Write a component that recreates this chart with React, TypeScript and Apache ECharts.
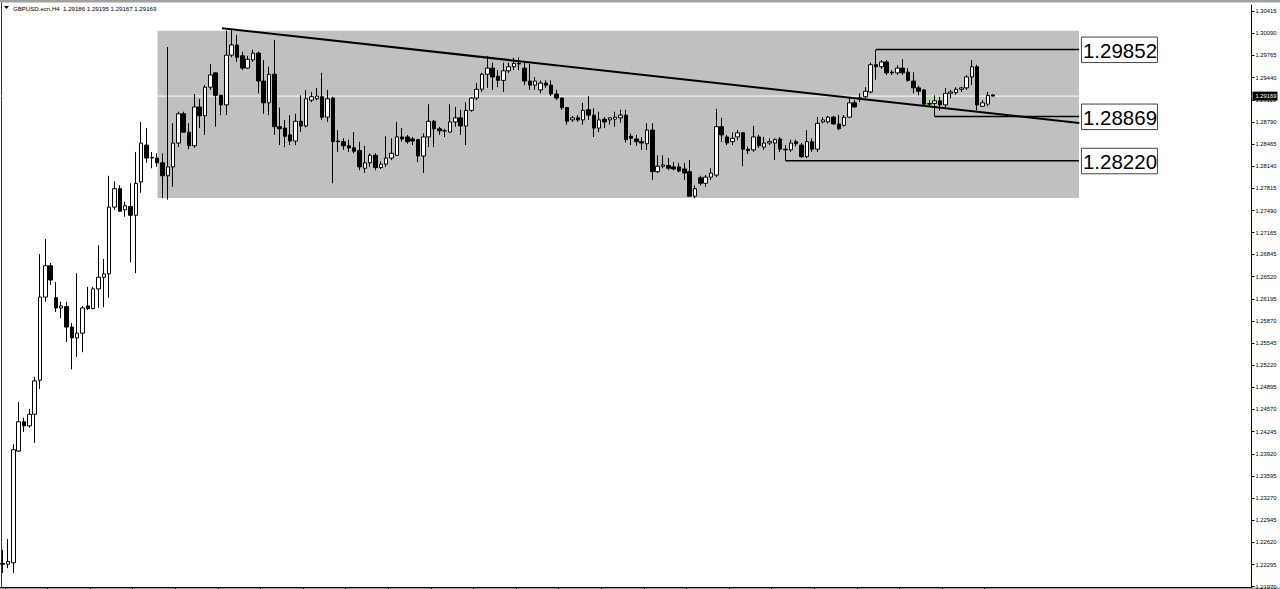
import React, { useEffect, useRef } from "react";
import * as echarts from "echarts";

// ---- candle data (H4 bars, oldest first) ----
const opens = [
  1.2231, 1.2230, 1.2232, 1.2396, 1.2439, 1.2433, 1.2450, 1.2500, 1.2622, 1.2668,
  1.2621, 1.2606, 1.2608, 1.2578, 1.2562, 1.2569, 1.2609, 1.2605, 1.2634, 1.2651,
  1.2656, 1.2754, 1.2781, 1.2750, 1.2755, 1.2742, 1.2791, 1.2845, 1.2827, 1.2826,
  1.2819, 1.2800, 1.2813, 1.2848, 1.2891, 1.2864, 1.2844, 1.2901, 1.2888, 1.2930,
  1.2951, 1.2918, 1.2904, 1.2977, 1.2992, 1.2976, 1.2958, 1.2970, 1.2980, 1.2939,
  1.2907, 1.2949, 1.2872, 1.2870, 1.2860, 1.2851, 1.2880, 1.2873, 1.2911, 1.2913,
  1.2916, 1.2886, 1.2914, 1.2851, 1.2850, 1.2844, 1.2841, 1.2837, 1.2811, 1.2819,
  1.2830, 1.2812, 1.2817, 1.2826, 1.2830, 1.2857, 1.2857, 1.2854, 1.2853, 1.2829,
  1.2857, 1.2880, 1.2869, 1.2866, 1.2864, 1.2879, 1.2885, 1.2873, 1.2896, 1.2914,
  1.2927, 1.2949, 1.2958, 1.2946, 1.2940, 1.2954, 1.2960, 1.2965, 1.2958, 1.2939,
  1.2933, 1.2926, 1.2936, 1.2933, 1.2920, 1.2914, 1.2900, 1.2882, 1.2885, 1.2882,
  1.2897, 1.2889, 1.2870, 1.2883, 1.2882, 1.2883, 1.2885, 1.2889, 1.2858, 1.2854,
  1.2850, 1.2847, 1.2867, 1.2806, 1.2814, 1.2815, 1.2813, 1.2813, 1.2810, 1.2806,
  1.2770, 1.2797, 1.2789, 1.2798, 1.2801, 1.2872, 1.2857, 1.2850, 1.2857, 1.2863,
  1.2839, 1.2838, 1.2857, 1.2842, 1.2848, 1.2848, 1.2854, 1.2839, 1.2838, 1.2850,
  1.2845, 1.2828, 1.2850, 1.2839, 1.2879, 1.2879, 1.2886, 1.2876, 1.2874, 1.2886,
  1.2907, 1.2913, 1.2916, 1.2923, 1.2963, 1.2960, 1.2967, 1.2952, 1.2951, 1.2958,
  1.2952, 1.2939, 1.2929, 1.2926, 1.2905, 1.2906, 1.2910, 1.2904, 1.2921, 1.2922,
  1.2927, 1.2929, 1.2945, 1.2960, 1.2902, 1.2905, 1.29186,
];
const highs = [
  1.2251, 1.2267, 1.2406, 1.2468, 1.2445, 1.2458, 1.2505, 1.2685, 1.2707, 1.2672,
  1.2644, 1.2615, 1.2615, 1.2584, 1.2657, 1.2609, 1.2637, 1.2637, 1.2698, 1.2678,
  1.2800, 1.2792, 1.2786, 1.2762, 1.2789, 1.2835, 1.2879, 1.2870, 1.2835, 1.2833,
  1.2833, 1.2989, 1.2877, 1.2894, 1.2894, 1.2877, 1.2920, 1.2913, 1.2933, 1.2964,
  1.2952, 1.2919, 1.3013, 1.3014, 1.3007, 1.2982, 1.2976, 1.2985, 1.2982, 1.2970,
  1.2960, 1.2999, 1.2900, 1.2882, 1.2889, 1.2891, 1.2918, 1.2926, 1.2923, 1.2929,
  1.2951, 1.2926, 1.2916, 1.2867, 1.2855, 1.2853, 1.2864, 1.2850, 1.2844, 1.2833,
  1.2833, 1.2821, 1.2858, 1.2855, 1.2879, 1.2870, 1.2860, 1.2857, 1.2854, 1.2862,
  1.2905, 1.2882, 1.2872, 1.2869, 1.2905, 1.2901, 1.2897, 1.2908, 1.2915, 1.2936,
  1.2951, 1.2976, 1.2966, 1.2955, 1.2966, 1.2966, 1.2973, 1.2974, 1.2966, 1.2964,
  1.2945, 1.2940, 1.2940, 1.2940, 1.2926, 1.2915, 1.2901, 1.2888, 1.2889, 1.2907,
  1.2917, 1.2899, 1.2894, 1.2886, 1.2886, 1.2894, 1.2897, 1.2897, 1.2862, 1.2860,
  1.2857, 1.2877, 1.2877, 1.2830, 1.2830, 1.2826, 1.2820, 1.2819, 1.2819, 1.2823,
  1.2786, 1.2800, 1.2801, 1.2811, 1.2898, 1.2885, 1.2860, 1.2864, 1.2867, 1.2864,
  1.2843, 1.2873, 1.2860, 1.2857, 1.2855, 1.2855, 1.2857, 1.2845, 1.2853, 1.2853,
  1.2848, 1.2867, 1.2855, 1.2886, 1.2886, 1.2888, 1.2888, 1.2889, 1.2889, 1.2914,
  1.2911, 1.2921, 1.2930, 1.2966, 1.29852, 1.2970, 1.2970, 1.2955, 1.2962, 1.2971,
  1.2958, 1.2952, 1.2932, 1.2927, 1.2911, 1.2918, 1.2916, 1.2929, 1.2926, 1.2930,
  1.2930, 1.2948, 1.2970, 1.2963, 1.2911, 1.2923, 1.29195,
];
const lows = [
  1.2217, 1.2224, 1.2217, 1.2395, 1.2424, 1.2430, 1.2408, 1.2487, 1.2615, 1.2640,
  1.2600, 1.2591, 1.2556, 1.2516, 1.2534, 1.2541, 1.2603, 1.2604, 1.2606, 1.2607,
  1.2621, 1.2750, 1.2747, 1.2740, 1.2673, 1.2657, 1.2775, 1.2819, 1.2811, 1.2813,
  1.2767, 1.2765, 1.2784, 1.2842, 1.2863, 1.2839, 1.2841, 1.2870, 1.2860, 1.2926,
  1.2872, 1.2889, 1.2889, 1.2974, 1.2967, 1.2955, 1.2957, 1.2967, 1.2921, 1.2891,
  1.2889, 1.2860, 1.2845, 1.2842, 1.2845, 1.2845, 1.2864, 1.2871, 1.2908, 1.2911,
  1.2882, 1.2879, 1.2789, 1.2835, 1.2838, 1.2835, 1.2833, 1.2808, 1.2804, 1.2813,
  1.2808, 1.2810, 1.2813, 1.2823, 1.2829, 1.2850, 1.2847, 1.2845, 1.2820, 1.2804,
  1.2842, 1.2842, 1.2860, 1.2857, 1.2863, 1.2872, 1.2860, 1.2845, 1.2894, 1.2911,
  1.2923, 1.2929, 1.2926, 1.2930, 1.2923, 1.2951, 1.2955, 1.2955, 1.2933, 1.2926,
  1.2926, 1.2921, 1.2929, 1.2917, 1.2911, 1.2897, 1.2875, 1.2879, 1.2879, 1.2875,
  1.2882, 1.2857, 1.2864, 1.2870, 1.2875, 1.2872, 1.2878, 1.2849, 1.2845, 1.2844,
  1.2838, 1.2838, 1.2794, 1.2804, 1.2811, 1.2808, 1.2808, 1.2805, 1.2794, 1.2769,
  1.2767, 1.2786, 1.2784, 1.2794, 1.2798, 1.2850, 1.2845, 1.2845, 1.2852, 1.2814,
  1.2832, 1.2835, 1.2841, 1.2838, 1.2845, 1.2823, 1.2835, 1.2822, 1.2835, 1.2843,
  1.2826, 1.2826, 1.2835, 1.2835, 1.2877, 1.2877, 1.2875, 1.2867, 1.2872, 1.2885,
  1.2900, 1.2908, 1.2914, 1.2921, 1.2941, 1.2957, 1.2948, 1.2948, 1.2948, 1.2948,
  1.2938, 1.2921, 1.2918, 1.2904, 1.2901, 1.28869, 1.2896, 1.2901, 1.2914, 1.2919,
  1.2923, 1.2926, 1.2933, 1.2896, 1.2901, 1.2902, 1.29167,
];
const closes = [
  1.2230, 1.2234, 1.2398, 1.2439, 1.2433, 1.2450, 1.2499, 1.2622, 1.2668, 1.2647,
  1.2606, 1.2609, 1.2578, 1.2562, 1.2569, 1.2606, 1.2605, 1.2634, 1.2651, 1.2656,
  1.2754, 1.2781, 1.2748, 1.2756, 1.2742, 1.2789, 1.2848, 1.2826, 1.2826, 1.2819,
  1.2800, 1.2813, 1.2848, 1.2891, 1.2864, 1.2844, 1.2901, 1.2888, 1.2930, 1.2948,
  1.2918, 1.2904, 1.2977, 1.2992, 1.2974, 1.2958, 1.2971, 1.2980, 1.2939, 1.2907,
  1.2949, 1.2872, 1.2869, 1.2858, 1.2851, 1.2880, 1.2873, 1.2913, 1.2916, 1.2917,
  1.2886, 1.2913, 1.2850, 1.2850, 1.2844, 1.2841, 1.2836, 1.2813, 1.2819, 1.2830,
  1.2812, 1.2817, 1.2826, 1.2833, 1.2857, 1.2854, 1.2850, 1.2851, 1.2829, 1.2857,
  1.2880, 1.2869, 1.2866, 1.2866, 1.2879, 1.2885, 1.2873, 1.2896, 1.2914, 1.2927,
  1.2949, 1.2958, 1.2945, 1.2940, 1.2954, 1.2960, 1.2965, 1.2964, 1.2939, 1.2933,
  1.2939, 1.2936, 1.2933, 1.2920, 1.2914, 1.2900, 1.2880, 1.2885, 1.2882, 1.2896,
  1.2889, 1.2870, 1.2882, 1.2879, 1.2885, 1.2886, 1.2889, 1.2853, 1.2855, 1.2850,
  1.2848, 1.2867, 1.2806, 1.2814, 1.2816, 1.2811, 1.2810, 1.2807, 1.2804, 1.2770,
  1.2781, 1.2789, 1.2798, 1.2804, 1.2872, 1.2860, 1.2848, 1.2855, 1.2863, 1.2839,
  1.2837, 1.2857, 1.2844, 1.2848, 1.2850, 1.2853, 1.2839, 1.2838, 1.2848, 1.2847,
  1.2828, 1.2850, 1.2839, 1.2877, 1.2882, 1.2886, 1.2876, 1.2869, 1.2886, 1.2907,
  1.2901, 1.2915, 1.2924, 1.2963, 1.2960, 1.2967, 1.2951, 1.2951, 1.2958, 1.2951,
  1.2940, 1.2929, 1.2924, 1.2905, 1.2906, 1.2910, 1.2904, 1.2921, 1.2923, 1.2927,
  1.2929, 1.2945, 1.2960, 1.2904, 1.2907, 1.2918, 1.29169,
];

// ---- axes ----
const BAR_SLOTS = 235; // visible bar slots across the chart window
const priceTicks = [
  1.30415, 1.3009, 1.29765, 1.2944, 1.29115, 1.2879, 1.28465, 1.2814, 1.27815,
  1.2749, 1.27165, 1.26845, 1.2652, 1.26195, 1.2587, 1.25545, 1.2522, 1.24895,
  1.2457, 1.24245, 1.2392, 1.23595, 1.2327, 1.22945, 1.2262, 1.22295, 1.2197,
];
const timeTickBars = [
  0.4, 8.4, 16.4, 24.4, 32.4, 40.4, 48.4, 56.4, 64.4, 72.4, 80.4, 88.4,
  96.4, 104.4, 112.4, 120.4, 128.4, 136.4, 144.4, 152.4, 160.4, 168.4,
  176.4, 184.4,
];
const Y_MIN = 1.21965;
const Y_MAX = 1.30506;

// ---- annotations ----
const headerText = "GBPUSD.ecn,H4  1.29186 1.29195 1.29167 1.29169";
const bidPrice = 1.29169;
const levelPrices = [1.29852, 1.28869, 1.2822];
const levelStartBars = [164, 175, 147];
const zoneBars = [29.07, 202.1];
const zonePrices = [1.30128, 1.27674];
const trendBars = [41.18, 202.17];
const trendPrices = [1.30164, 1.28774];
const markerBars = [172.8, 176.2];
const markerPrices = [1.2916, 1.2899];

const FONT = "'Liberation Sans', Arial, sans-serif";

export default function App() {
  const ref = useRef<HTMLDivElement>(null);

  useEffect(() => {
    if (!ref.current) return;
    const chart = echarts.init(ref.current, undefined, { renderer: "svg" });

    const categories = Array.from({ length: BAR_SLOTS }, (_, i) => String(i));
    const candleData = opens.map((o, i) => [o, closes[i], lows[i], highs[i]]);

    const renderBackground = (_params: any, api: any) => {
      const tl = api.coord([zoneBars[0], zonePrices[0]]);
      const br = api.coord([zoneBars[1], zonePrices[1]]);
      const bl = api.coord([-0.5, bidPrice]);
      const brr = api.coord([BAR_SLOTS - 0.5, bidPrice]);
      const g1 = api.coord([markerBars[0], markerPrices[0]]);
      const g2 = api.coord([markerBars[1], markerPrices[1]]);
      return {
        type: "group",
        children: [
          {
            type: "rect",
            shape: { x: tl[0], y: tl[1], width: br[0] - tl[0], height: br[1] - tl[1] },
            style: { fill: "#c0c0c0" },
          },
          {
            type: "rect",
            shape: { x: g1[0], y: g1[1], width: g2[0] - g1[0], height: g2[1] - g1[1] },
            style: { fill: "#b4d4a4" },
          },
          {
            type: "line",
            shape: { x1: bl[0], y1: bl[1], x2: brr[0], y2: brr[1] },
            style: { stroke: "#ffffff", lineWidth: 1 },
          },
        ],
      };
    };

    const renderLevels = (params: any, api: any) => {
      const start = api.coord([api.value(0), api.value(1)]);
      const end = api.coord([zoneBars[1], api.value(1)]);
      const txt = levelPrices[params.dataIndex].toFixed(5);
      return {
        type: "group",
        children: [
          {
            type: "line",
            shape: { x1: start[0], y1: start[1], x2: end[0], y2: end[1] },
            style: { stroke: "#000", lineWidth: 1.4 },
          },
          {
            type: "rect",
            shape: { x: end[0] + 2.5, y: end[1] - 12.5, width: 76, height: 25.5 },
            style: { fill: "#fff", stroke: "#444", lineWidth: 1 },
          },
          {
            type: "text",
            x: end[0] + 4,
            y: end[1] + 0.5,
            style: {
              text: txt,
              fontSize: 20.5,
              fontFamily: FONT,
              fill: "#000",
              verticalAlign: "middle",
              align: "left",
            },
          },
        ],
      };
    };

    const renderPriceTag = (_params: any, api: any) => {
      const p = api.coord([BAR_SLOTS - 0.5, bidPrice]);
      return {
        type: "group",
        children: [
          {
            type: "rect",
            shape: { x: p[0] + 1, y: p[1] - 4.5, width: 25, height: 9 },
            style: { fill: "#000" },
          },
          {
            type: "text",
            x: p[0] + 4,
            y: p[1],
            style: {
              text: bidPrice.toFixed(5),
              fontSize: 5.8,
              fontFamily: FONT,
              fill: "#fff",
              verticalAlign: "middle",
              align: "left",
            },
          },
        ],
      };
    };

    chart.setOption({
      animation: false,
      backgroundColor: "#ffffff",
      grid: {
        left: 0,
        right: 28.5,
        top: 5,
        bottom: 2,
        containLabel: false,
        outerBoundsMode: "none",
      },
      xAxis: [
        {
          type: "category",
          data: categories,
          boundaryGap: true,
          axisLine: { show: true, onZero: false, lineStyle: { color: "#000", width: 1 } },
          axisTick: { show: false },
          axisLabel: { show: false },
          splitLine: { show: false },
        },
        {
          type: "value",
          min: -0.5,
          max: BAR_SLOTS - 0.5,
          position: "bottom",
          axisLine: { show: false, onZero: false },
          axisTick: {
            show: true,
            customValues: timeTickBars,
            length: 2,
            lineStyle: { color: "#000" },
          },
          axisLabel: { show: false },
          splitLine: { show: false },
        },
      ],
      yAxis: {
        type: "value",
        position: "right",
        min: Y_MIN,
        max: Y_MAX,
        scale: true,
        axisLine: { show: true, onZero: false, lineStyle: { color: "#000", width: 1 } },
        axisTick: {
          show: true,
          customValues: priceTicks,
          length: 3,
          lineStyle: { color: "#000" },
        },
        axisLabel: {
          show: true,
          customValues: priceTicks,
          formatter: (v: number) => v.toFixed(5),
          fontSize: 5.8,
          fontFamily: FONT,
          color: "#000",
          margin: 4,
        },
        splitLine: { show: false },
      },
      series: [
        {
          type: "custom",
          name: "zone",
          xAxisIndex: 1,
          yAxisIndex: 0,
          data: [[0, bidPrice]],
          renderItem: renderBackground,
          clip: false,
          silent: true,
          z: 1,
        },
        {
          type: "candlestick",
          name: "GBPUSD",
          xAxisIndex: 0,
          yAxisIndex: 0,
          data: candleData,
          barWidth: 4,
          itemStyle: {
            color: "#ffffff",
            color0: "#000000",
            borderColor: "#000000",
            borderColor0: "#000000",
            borderWidth: 1,
          },
          z: 3,
        },
        {
          type: "line",
          name: "trend",
          xAxisIndex: 1,
          yAxisIndex: 0,
          data: trendBars.map((b, i) => [b, trendPrices[i]]),
          symbol: "none",
          lineStyle: { color: "#000", width: 2 },
          z: 5,
          silent: true,
        },
        {
          type: "custom",
          name: "levels",
          xAxisIndex: 1,
          yAxisIndex: 0,
          data: levelPrices.map((p, i) => [levelStartBars[i], p]),
          renderItem: renderLevels,
          clip: false,
          silent: true,
          z: 6,
        },
        {
          type: "custom",
          name: "priceTag",
          xAxisIndex: 1,
          yAxisIndex: 0,
          data: [[BAR_SLOTS - 0.5, bidPrice]],
          renderItem: renderPriceTag,
          clip: false,
          silent: true,
          z: 7,
        },
      ],
      graphic: [
        {
          type: "rect",
          shape: { x: 0, y: 0, width: 1280, height: 2.5 },
          style: { fill: "#a0a0a0" },
          silent: true,
        },
        {
          type: "line",
          shape: { x1: 1.5, y1: 2.5, x2: 1.5, y2: 587 },
          style: { stroke: "#333", lineWidth: 1 },
          silent: true,
        },
        {
          type: "rect",
          shape: { x: 0, y: 587.5, width: 1280, height: 1.5 },
          style: { fill: "#a0a0a0" },
          silent: true,
        },
        {
          type: "polygon",
          shape: { points: [[4, 6], [9, 6], [6.5, 9]] },
          style: { fill: "#000" },
          silent: true,
        },
        {
          type: "text",
          x: 13,
          y: 8,
          style: {
            text: headerText,
            fontSize: 6.1,
            fontFamily: FONT,
            fill: "#000",
            verticalAlign: "middle",
          },
          silent: true,
        },
      ],
    });

    return () => chart.dispose();
  }, []);

  return (
    <div
      ref={ref}
      style={{
        position: "fixed",
        left: 0,
        top: 0,
        width: "1280px",
        height: "589px",
        background: "#fff",
      }}
    />
  );
}
